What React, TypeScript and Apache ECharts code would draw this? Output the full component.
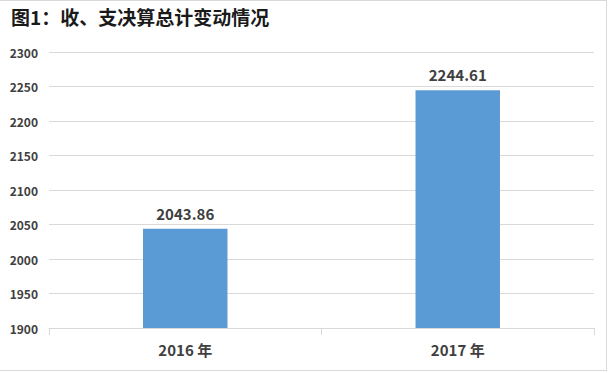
import React, { useEffect, useRef } from "react";
import * as echarts from "echarts";

const title = "图1：收、支决算总计变动情况";
const categories = ["2016 年", "2017 年"];
const values = [2043.86, 2244.61];
const yMin = 1900;
const yMax = 2300;
const yStep = 50;

export default function App() {
  const ref = useRef<HTMLDivElement>(null);
  useEffect(() => {
    document.body.style.margin = "0";
    const chart = echarts.init(ref.current!, null, { renderer: "svg" });
    const font = "'Noto Sans CJK SC', 'Noto Sans', sans-serif";
    chart.setOption({
      animation: false,
      backgroundColor: "#ffffff",
      title: {
        text: title,
        left: 6,
        top: 2,
        textStyle: { fontSize: 19, fontWeight: "bold", color: "#1a1a1a", fontFamily: font },
      },
      grid: { left: 49, right: 15, top: 52, bottom: 45 },
      xAxis: {
        type: "category",
        data: categories,
        axisLine: { show: true, lineStyle: { color: "#D9D9D9", width: 1 } },
        axisTick: { show: true, length: 7, lineStyle: { color: "#D9D9D9" } },
        axisLabel: { fontSize: 15, fontWeight: "bold", color: "#404040", margin: 14, fontFamily: font },
      },
      yAxis: {
        type: "value",
        min: yMin,
        max: yMax,
        interval: yStep,
        axisLine: { show: false },
        axisTick: { show: false },
        axisLabel: {
          fontSize: 12,
          fontWeight: "bold",
          color: "#404040",
          margin: 11,
          fontFamily: font,
          formatter: (v: number) => String(v),
        },
        splitLine: { lineStyle: { color: "#D9D9D9", width: 1 } },
      },
      series: [
        {
          type: "bar",
          data: values,
          barWidth: "31%",
          itemStyle: { color: "#5B9BD5" },
          label: {
            show: true,
            position: "top",
            distance: 8,
            fontSize: 15,
            fontWeight: "bold",
            color: "#404040",
            fontFamily: font,
            formatter: (p: any) => p.value.toFixed(2),
          },
        },
      ],
      graphic: [
        { type: "line", shape: { x1: 0, y1: 0.5, x2: 607, y2: 0.5 }, style: { stroke: "#D9D9D9", lineWidth: 1 } },
        { type: "line", shape: { x1: 606.5, y1: 0, x2: 606.5, y2: 370 }, style: { stroke: "#D9D9D9", lineWidth: 1 } },
        { type: "line", shape: { x1: 0, y1: 370.5, x2: 607, y2: 370.5 }, style: { stroke: "#D9D9D9", lineWidth: 1 } },
      ],
    });
    return () => chart.dispose();
  }, []);
  return <div ref={ref} style={{ width: 609, height: 373 }} />;
}
